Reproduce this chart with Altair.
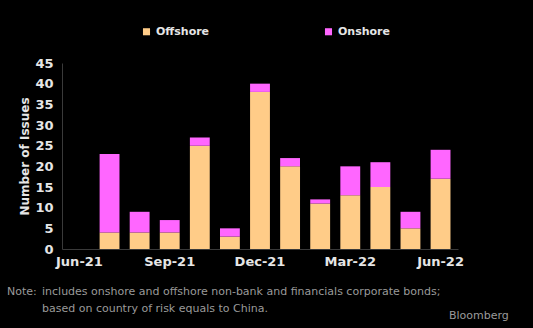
import altair as alt
import pandas as pd

months = ["Jun-21", "Jul-21", "Aug-21", "Sep-21", "Oct-21", "Nov-21", "Dec-21",
          "Jan-22", "Feb-22", "Mar-22", "Apr-22", "May-22", "Jun-22"]
offshore = [0, 4, 4, 4, 25, 3, 38, 20, 11, 13, 15, 5, 17]
onshore = [0, 19, 5, 3, 2, 2, 2, 2, 1, 7, 6, 4, 7]
shown_labels = ["Jun-21", "Sep-21", "Dec-21", "Mar-22", "Jun-22"]
series = ["Offshore", "Onshore"]
colors = ["#FFCC88", "#FF66FF"]
y_ticks = [0, 5, 10, 15, 20, 25, 30, 35, 40, 45]

rows = []
for i, m in enumerate(months):
    rows.append({"month": m, "series": "Offshore", "value": offshore[i], "order": 0})
    rows.append({"month": m, "series": "Onshore", "value": onshore[i], "order": 1})
df = pd.DataFrame(rows)

FONT = "DejaVu Sans"

label_expr = "indexof(" + str(shown_labels) + ", datum.value) >= 0 ? datum.value : ''"

bars = alt.Chart(df).mark_bar().encode(
    x=alt.X("month:N", sort=months,
            scale=alt.Scale(paddingInner=0.34, paddingOuter=0.25),
            axis=alt.Axis(title=None, labelExpr=label_expr, labelAngle=0,
                          ticks=False, domainColor="#3a3a3a", labelColor="#e6e6e6",
                          labelFont=FONT, labelFontSize=13, labelFontWeight="bold",
                          labelPadding=6, grid=False)),
    y=alt.Y("value:Q", stack="zero",
            scale=alt.Scale(domain=[0, 45], nice=False),
            axis=alt.Axis(title="Number of Issues", values=y_ticks, ticks=False,
                          domainColor="#3a3a3a", labelColor="#e6e6e6",
                          labelFont=FONT, labelFontSize=13, labelFontWeight="bold",
                          labelPadding=9, titleColor="#e6e6e6", titleFont=FONT,
                          titleFontSize=12, titleFontWeight="bold", titlePadding=3,
                          grid=False)),
    color=alt.Color("series:N", sort=series,
                    scale=alt.Scale(domain=series, range=colors),
                    legend=alt.Legend(title=None, orient="none", direction="horizontal",
                                      legendX=79, legendY=-37, columnPadding=113,
                                      symbolType="square", symbolSize=50,
                                      symbolStrokeWidth=0, labelColor="#e6e6e6",
                                      labelFont=FONT, labelFontSize=11,
                                      labelFontWeight="bold", labelOffset=4)),
    order=alt.Order("order:Q"),
)

note_df = pd.DataFrame({"t": ["Note:"]})
note1 = alt.Chart(note_df).mark_text(
    align="left", baseline="middle", font=FONT, fontSize=11, color="#9a9a9a"
).encode(text="t:N", x=alt.value(-55), y=alt.value(229))

note_text_df = pd.DataFrame({"t": ["includes onshore and offshore non-bank and financials corporate bonds;"]})
note2 = alt.Chart(note_text_df).mark_text(
    align="left", baseline="middle", font=FONT, fontSize=11, color="#9a9a9a"
).encode(text="t:N", x=alt.value(-20), y=alt.value(229))

note3_df = pd.DataFrame({"t": ["based on country of risk equals to China."]})
note3 = alt.Chart(note3_df).mark_text(
    align="left", baseline="middle", font=FONT, fontSize=11, color="#9a9a9a"
).encode(text="t:N", x=alt.value(-20), y=alt.value(246))

brand_df = pd.DataFrame({"t": ["Bloomberg"]})
brand = alt.Chart(brand_df).mark_text(
    align="left", baseline="middle", font=FONT, fontSize=11, color="#9a9a9a"
).encode(text="t:N", x=alt.value(387), y=alt.value(253))

chart = alt.layer(bars, note1, note2, note3, brand).properties(
    width=396, height=186,
    background="#000000",
    padding={"left": 62, "top": 63, "right": 75, "bottom": 79},
    autosize=alt.AutoSizeParams(type="none"),
).configure_view(stroke=None)

chart.save("out.html", embed_options={"renderer": "svg", "actions": False})
